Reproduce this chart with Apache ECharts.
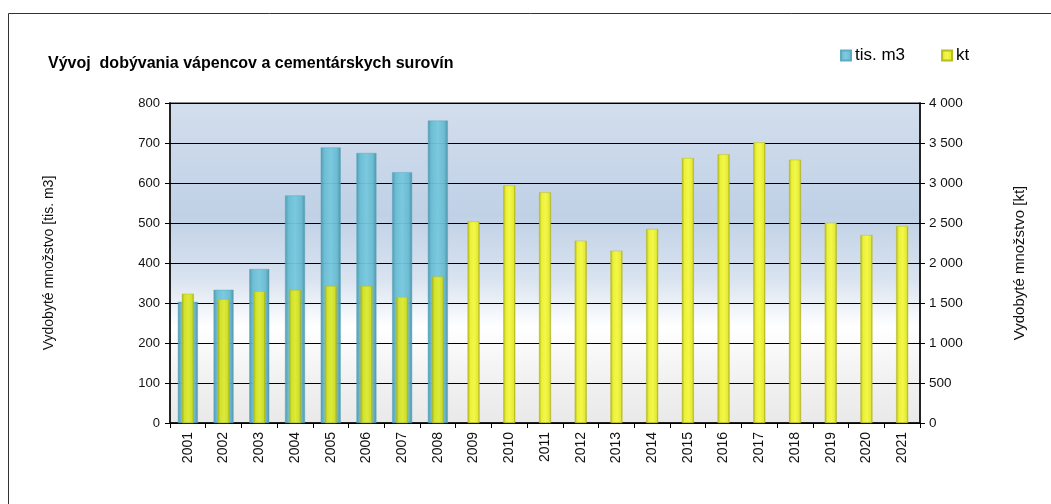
<!DOCTYPE html>
<html>
<head>
<meta charset="utf-8">
<script src="https://cdn.jsdelivr.net/npm/echarts@6/dist/echarts.min.js"></script>
<style>
  html, body { margin: 0; padding: 0; background: #fff; }
  #itemChar { width: 1051px; height: 504px; }
</style>
</head>
<body>
<div id="itemChar"></div>
<script>
  var years = ['2001','2002','2003','2004','2005','2006','2007','2008','2009','2010','2011',
    '2012','2013','2014','2015','2016','2017','2018','2019','2020','2021']
  // tis. m3 (len po rok 2008)
  var tisM3 = [303, 333, 385, 569, 689, 675, 627, 756]
  // kt
  var kt = [1616, 1546, 1646, 1662, 1712, 1712, 1575, 1830, 2520, 2968, 2883,
    2279, 2154, 2425, 3312, 3358, 3508, 3291, 2504, 2350, 2462]
  var leftTicks = [0, 100, 200, 300, 400, 500, 600, 700, 800]
  var rightTicks = [0, 500, 1000, 1500, 2000, 2500, 3000, 3500, 4000]

  var font = "'Liberation Sans', Arial, sans-serif"

  function hGrad(stops) {
    return new echarts.graphic.LinearGradient(0, 0, 1, 0, stops.map(function (s) {
      return {offset: s[0], color: s[1]}
    }))
  }
  var blueColor = hGrad([[0, '#4a97ad'], [0.18, '#68bcd3'], [0.5, '#76c8de'], [0.82, '#67bad1'], [1, '#4a8fa3']])
  var yellowColor = hGrad([[0, '#aeb21a'], [0.22, '#ebf138'], [0.55, '#f3f748'], [0.85, '#e4ea36'], [1, '#a2a616']])
  var greenYellow = hGrad([[0, '#9fb01a'], [0.22, '#d2e22c'], [0.55, '#dcea38'], [0.85, '#cddd2a'], [1, '#96a618']])

  var blueData = years.map(function (y, i) { return i < tisM3.length ? tisM3[i] : null })
  var ktData = kt.map(function (v, i) {
    // pred modrymi stlpcami je zlta trochu do zelena
    return i < tisM3.length ? {value: v, itemStyle: {color: greenYellow}} : v
  })

  var option = {
    animation: false,
    textStyle: {fontFamily: font},
    title: {
      text: 'Vývoj  dobývania vápencov a cementárskych surovín',
      left: 43,
      top: 51,
      textStyle: {fontFamily: font, fontSize: 16, fontWeight: 'bold', color: '#000'}
    },
    legend: {
      left: 835,
      top: 42,
      itemWidth: 10,
      itemHeight: 10,
      itemGap: 36,
      icon: 'rect',
      textStyle: {fontFamily: font, fontSize: 17, color: '#000', padding: [0, 0, 0, -1]},
      data: ['tis. m3', 'kt']
    },
    graphic: [{
      type: 'rect',
      left: 6,
      top: 11,
      shape: {width: 1100, height: 600},
      style: {fill: 'none', stroke: '#333', lineWidth: 1},
      silent: true
    }],
    grid: {
      left: 170,
      right: 131,
      top: 103,
      bottom: 81,
      show: true,
      borderColor: '#8a8a8a',
      borderWidth: 2,
      backgroundColor: new echarts.graphic.LinearGradient(0, 0, 0, 1, [
        {offset: 0, color: '#d3deed'},
        {offset: 0.35, color: '#c0d1e6'},
        {offset: 0.55, color: '#d9e3f0'},
        {offset: 0.7, color: '#ffffff'},
        {offset: 0.85, color: '#f2f2f2'},
        {offset: 1, color: '#e9e9e9'}
      ])
    },
    xAxis: [
      {
        type: 'category',
        data: years,
        axisLine: {lineStyle: {color: '#000', width: 1.5}},
        axisTick: {show: true, length: 5, lineStyle: {color: '#000'}},
        axisLabel: {rotate: 90, fontSize: 14, color: '#111', margin: 9, fontFamily: font}
      },
      {
        type: 'category',
        data: years,
        show: false
      }
    ],
    yAxis: [
      {
        type: 'value',
        min: leftTicks[0],
        max: leftTicks[leftTicks.length - 1],
        interval: leftTicks[1] - leftTicks[0],
        name: 'Vydobyté množstvo [tis. m3]',
        nameLocation: 'middle',
        nameRotate: 90,
        nameGap: 114,
        nameTextStyle: {fontFamily: font, fontSize: 14, color: '#111'},
        axisLine: {show: true, lineStyle: {color: '#000', width: 1.5}},
        axisTick: {show: true, length: 5, lineStyle: {color: '#000'}},
        axisLabel: {fontSize: 13, color: '#111', margin: 10, fontFamily: font},
        splitLine: {show: true, lineStyle: {color: '#000', width: 1}}
      },
      {
        type: 'value',
        min: rightTicks[0],
        max: rightTicks[rightTicks.length - 1],
        interval: rightTicks[1] - rightTicks[0],
        name: 'Vydobyté množstvo [kt]',
        nameLocation: 'middle',
        nameRotate: 90,
        nameGap: 92,
        nameTextStyle: {fontFamily: font, fontSize: 15, color: '#111'},
        axisLine: {show: true, lineStyle: {color: '#000', width: 1.5}},
        axisTick: {show: true, length: 5, lineStyle: {color: '#000'}},
        axisLabel: {
          fontSize: 13.5, color: '#111', margin: 9, fontFamily: font,
          formatter: function (v) { return String(v).replace(/\B(?=(\d{3})+(?!\d))/g, ' ') }
        },
        splitLine: {show: false}
      }
    ],
    series: [
      {
        name: 'tis. m3',
        type: 'bar',
        xAxisIndex: 0,
        yAxisIndex: 0,
        barWidth: 20,
        data: blueData,
        z: 2,
        itemStyle: {color: blueColor, borderColor: '#5aa9bf', borderWidth: 0.5, opacity: 0.95}
      },
      {
        name: 'kt',
        type: 'bar',
        xAxisIndex: 1,
        yAxisIndex: 1,
        barWidth: 12,
        data: ktData,
        z: 3,
        itemStyle: {color: yellowColor, borderColor: '#b8bc22', borderWidth: 0.5}
      }
    ]
  }

  var mychar = echarts.init(document.getElementById('itemChar'))
  mychar.setOption(option)
</script>
</body>
</html>
